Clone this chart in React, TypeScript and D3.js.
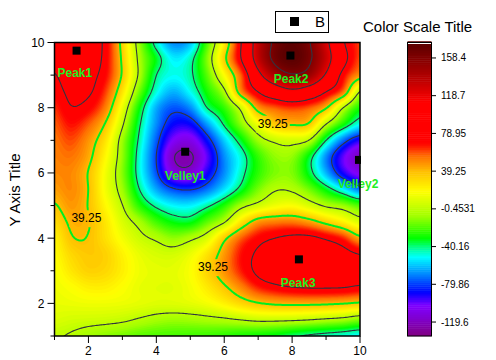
import React from "react";
import * as d3 from "d3";

const xGrid = [1, 1.5, 2, 2.5, 3, 3.5, 4, 4.5, 5, 5.5, 6, 6.5, 7, 7.5, 8, 8.5, 9, 9.5, 10];
const yGrid = [1, 1.5, 2, 2.5, 3, 3.5, 4, 4.5, 5, 5.5, 6, 6.5, 7, 7.5, 8, 8.5, 9, 9.5, 10];

const zY1 = [1, -2, -7, -11, -14, -18, -20, -21, -22, -23, -25, -28, -30, -33, -38, -42, -45, -48, -52];
const zY1_5 = [8, 6, 5, 4, 2, -2, -6, -8, -7, -5, -3, 0, 3, 3, 2, 0, -3, -6, -12];
const zY2 = [12, 13, 14, 14, 13, 11, 9, 9, 11, 15, 22, 31, 38, 42, 43, 43, 42, 40, 37];
const zY2_5 = [14, 18, 23, 23, 18, 12, 10, 10, 15, 25, 37, 51, 66, 74, 79, 81, 81, 80, 76];
const zY3 = [16, 26, 33, 31, 23, 14, 11, 11, 17, 32, 48, 66, 84, 98, 106, 106, 103, 98, 94];
const zY3_5 = [19, 31, 36, 33, 22, 12, 7, 6, 13, 27, 47, 68, 83, 98, 103, 103, 97, 88, 79];
const zY4 = [22, 38, 38.5, 28, 15, 4, -3, -10, -4, 8, 35, 57, 71, 79, 84, 84, 76, 65, 44];
const zY4_5 = [30, 42, 40, 26, 8, -6, -22, -32, -33, -18, -2, 26, 47, 52, 53, 46, 34, 22, 8];
const zY5 = [38, 47, 38.5, 20, 0, -26, -43, -52, -53, -43, -27, -6, 5, 14, 17, 8, -3, -9, -20];
const zY5_5 = [46, 50, 39, 15, -8, -40, -64, -78, -81, -72, -55, -35, -14, -2, -3, -15, -33, -52, -72];
const zY6 = [50, 50, 38.5, 15, -12, -47, -77, -108, -112, -90, -68, -45, -25, -13, -13, -34, -62, -90, -106];
const zY6_5 = [52, 54, 43.5, 20, -10, -47, -80, -118, -122, -98, -68, -47, -24, -10, -10, -33, -68, -98, -118];
const zY7 = [54, 60, 48, 27, -8, -43, -75, -103, -108, -86, -58, -33, -8, 3, 6, -1, -40, -72, -92];
const zY7_5 = [58, 68, 58, 38, 2, -38, -68, -88, -88, -65, -38, -11, 15, 36, 41, 37, 0, -28, -50];
const zY8 = [64, 78, 72, 52, 13, -30, -63, -76, -68, -40, -24, 5, 47, 58, 63, 58, 41, 0, -28];
const zY8_5 = [72, 84, 82, 62, 27, -15, -48, -62, -50, -28, -4, 50, 80, 100, 112, 102, 80, 55, 0];
const zY9 = [78, 90, 86, 70, 37, -4, -40, -50, -43, -18, 18, 58, 110, 142, 156, 148, 115, 72, 48];
const zY9_5 = [86, 97, 92, 73, 36, -5, -33, -53, -45, -12, 34, 79, 132, 164, 174, 162, 131, 88, 60];
const zY10 = [88, 96, 92, 74, 33, -9, -46, -68, -60, -20, 24, 79, 133, 163, 172, 160, 126, 82, 62];
const zRows = [zY1, zY1_5, zY2, zY2_5, zY3, zY3_5, zY4, zY4_5, zY5, zY5_5, zY6, zY6_5, zY7, zY7_5, zY8, zY8_5, zY9, zY9_5, zY10];

const contourLevels = [-119.6, -79.86, -40.16, -0.4531, 78.95, 118.7, 158.4];
const highlightLevel = 39.25;
const scaleTickValues = [158.4, 118.7, 78.95, 39.25, -0.4531, -40.16, -79.86, -119.6];
const scaleTickLabels = ["158.4", "118.7", "78.95", "39.25", "-0.4531", "-40.16", "-79.86", "-119.6"];
const colorStops: [number, string][] = [
  [-134, "#800080"], [-115, "#7f00d0"], [-102, "#8000ff"], [-88, "#0000ff"], [-70, "#0080ff"], [-51, "#00ffff"],
  [-40, "#00ff80"], [-31, "#00ff00"], [-8, "#a0ff00"], [18, "#ffff00"], [39, "#ffc000"], [55, "#ff7000"],
  [67, "#ff1000"], [70, "#ff0000"], [112, "#ff0000"], [140, "#b00000"], [175, "#580000"],
];
const peakX = [1.65, 4.85, 7.95, 9.97, 8.2];
const peakY = [9.75, 6.65, 9.6, 6.4, 3.35];
const peakNames = ["Peak1", "Velley1", "Peak2", "Velley2", "Peak3"];
const nameX = [1.6, 4.85, 7.97, 10, 8.18];
const nameY = [9.03, 5.88, 8.87, 5.65, 2.6];
const labelX = [7.43, 1.94, 5.67];
const labelY = [7.48, 4.58, 3.08];
const xTicks = [2, 4, 6, 8, 10];
const yTicks = [2, 4, 6, 8, 10];
const minorTicks = [1, 3, 5, 7, 9];

const L = 54.5, R = 360, T = 42.5, B = 336;
const FONT = "'Liberation Sans', Arial, sans-serif";
const x = d3.scaleLinear().domain([1, 10]).range([L, R]);
const y = d3.scaleLinear().domain([1, 10]).range([B, T]);
const cy = d3.scaleLinear().domain([-134.3, 175.2]).range([336, 42]);
const color = d3.scaleLinear<string>().domain(colorStops.map((d) => d[0])).range(colorStops.map((d) => d[1])).interpolate(d3.interpolateRgb).clamp(true);

// smooth display resampling of the value table (Catmull-Rom)
const F = 12;
function cr(a: number, b: number, c: number, d: number, t: number) {
  return 0.5 * (2 * b + (c - a) * t + (2 * a - 5 * b + 4 * c - d) * t * t + (3 * b - a - 3 * c + d) * t * t * t);
}
const n = xGrid.length, m = yGrid.length;
const W = (n - 1) * F + 1, H = (m - 1) * F + 1;
const field = new Float64Array(W * H);
const at = (r: number, c: number) => zRows[Math.max(0, Math.min(m - 1, r))][Math.max(0, Math.min(n - 1, c))];
for (let j = 0; j < H; j++) {
  const r = Math.min(m - 2, Math.floor(j / F)), tr = j / F - r;
  for (let i = 0; i < W; i++) {
    const c = Math.min(n - 2, Math.floor(i / F)), tc = i / F - c;
    const v = [-1, 0, 1, 2].map((k) => cr(at(r + k, c - 1), at(r + k, c), at(r + k, c + 1), at(r + k, c + 2), tc));
    field[j * W + i] = cr(v[0], v[1], v[2], v[3], tr);
  }
}
const gx = d3.scaleLinear().domain([0.5, W - 0.5]).range([L, R]);
const gy = d3.scaleLinear().domain([0.5, H - 0.5]).range([B, T]);
const path = d3.geoPath(d3.geoTransform({ point(px: number, py: number) { (this as any).stream.point(gx(px), gy(py)); } }));
const contourGen = d3.contours().size([W, H]);
const bands = d3.range(-134, 176, 2);
const fillPaths = bands.map((t) => ({ t, d: path(contourGen.contour(field as any, t)) || "" }));
const linePath = (lv: number) => path(contourGen.contour(field as any, lv)) || "";
const barBands = d3.range(-134, 175, 2);

export default function App() {
  return (
    <svg width={496} height={360} style={{ position: "absolute", left: 0, top: 0 }} fontFamily={FONT}>
      <defs>
        <clipPath id="plot"><rect x={L} y={T} width={R - L} height={B - T} /></clipPath>
        <clipPath id="markclip"><rect x={L} y={T} width={R - L + 1} height={B - T} /></clipPath>
        <mask id="gaps" maskUnits="userSpaceOnUse" x={0} y={0} width={496} height={360}>
          <rect width={496} height={360} fill="white" />
          {labelX.map((v, i) => <rect key={i} x={x(v) - 17} y={y(labelY[i]) - 9} width={34} height={17} fill="black" />)}
        </mask>
      </defs>
      <rect width={496} height={360} fill="#fff" />
      <g clipPath="url(#plot)">
        <rect x={L} y={T} width={R - L} height={B - T} fill={color(-134)} />
        {fillPaths.map((p) => <path key={p.t} d={p.d} fill={color(p.t + 1)} />)}
        <g mask="url(#gaps)" fill="none">
          {contourLevels.map((lv) => <path key={lv} d={linePath(lv)} stroke="#303540" strokeWidth={1.1} />)}
          <path d={linePath(highlightLevel)} stroke="#00ee20" strokeWidth={2} />
        </g>
      </g>
      {labelX.map((v, i) => (
        <text key={i} x={x(v)} y={y(labelY[i])} textAnchor="middle" dominantBaseline="middle" fontSize={12} fill="#000">39.25</text>
      ))}
      <g clipPath="url(#markclip)">
        {peakX.map((v, i) => <rect key={i} x={x(v) - 4} y={y(peakY[i]) - 4} width={8} height={8} fill="#000" />)}
      </g>
      {peakNames.map((s, i) => (
        <text key={s} x={Math.min(x(nameX[i]), 358)} y={y(nameY[i])} textAnchor="middle" dominantBaseline="middle" fontSize={12} fontWeight="bold" fill="#22ee22">{s}</text>
      ))}
      <rect x={L} y={T} width={R - L} height={B - T} fill="none" stroke="#000" strokeWidth={1.5} />
      {xTicks.map((t) => (
        <g key={t}>
          <line x1={x(t)} x2={x(t)} y1={B} y2={B + 7} stroke="#000" />
          <text x={x(t)} y={B + 19} textAnchor="middle" fontSize={12} fill="#000">{t}</text>
        </g>
      ))}
      {yTicks.map((t) => (
        <g key={t}>
          <line x1={L} x2={L - 7} y1={y(t)} y2={y(t)} stroke="#000" />
          <text x={L - 10} y={y(t) + 4.5} textAnchor="end" fontSize={12} fill="#000">{t}</text>
        </g>
      ))}
      {minorTicks.map((t) => (
        <g key={t}>
          <line x1={x(t)} x2={x(t)} y1={B} y2={B + 4} stroke="#000" />
          <line x1={L} x2={L - 4} y1={y(t)} y2={y(t)} stroke="#000" />
        </g>
      ))}
      <text transform={`translate(20,190) rotate(-90)`} textAnchor="middle" fontSize={15} fill="#000">Y Axis Title</text>
      <rect x={275.5} y={11.5} width={53} height={21} fill="#fff" stroke="#000" />
      <rect x={290} y={17} width={9} height={9} fill="#000" />
      <text x={315} y={27} fontSize={15} fill="#000">B</text>
      <text x={363} y={32} fontSize={15} fill="#000">Color Scale Title</text>
      {barBands.map((t) => (
        <rect key={t} x={407.5} y={cy(t + 2)} width={24} height={cy(t) - cy(t + 2) + 0.5} fill={color(t + 1)} />
      ))}
      <rect x={407.5} y={42.5} width={24} height={293.5} fill="none" stroke="#000" />
      <line x1={408} x2={431} y1={43.5} y2={43.5} stroke="#fff" />
      {scaleTickValues.map((v, i) => (
        <g key={v}>
          <line x1={431.5} x2={436} y1={cy(v)} y2={cy(v)} stroke="#000" />
          <text x={441} y={cy(v) + 3.5} fontSize={10} fill="#000">{scaleTickLabels[i]}</text>
        </g>
      ))}
    </svg>
  );
}
